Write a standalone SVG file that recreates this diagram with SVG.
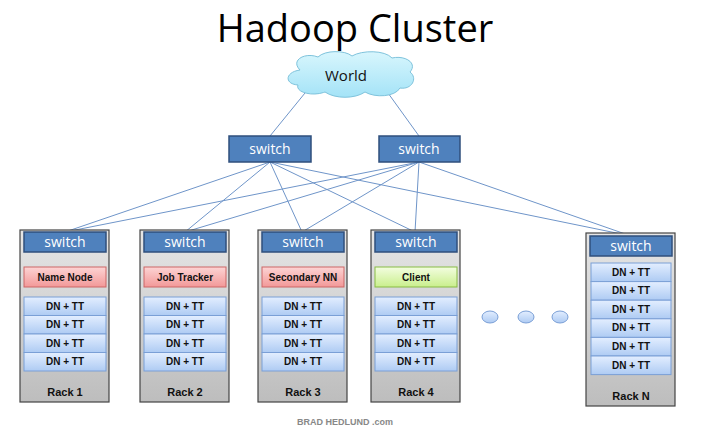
<svg xmlns="http://www.w3.org/2000/svg" width="709" height="439" viewBox="0 0 709 439">
<defs>
<linearGradient id="rk" x1="0" y1="0" x2="0" y2="1"><stop offset="0" stop-color="#e6e6e6"/><stop offset="1" stop-color="#bdbdbd"/></linearGradient>
<linearGradient id="dn" x1="0" y1="0" x2="0" y2="1"><stop offset="0" stop-color="#e3eeff"/><stop offset="1" stop-color="#aecbf3"/></linearGradient>
<linearGradient id="rd" x1="0" y1="0" x2="0" y2="1"><stop offset="0" stop-color="#fcd4d4"/><stop offset="1" stop-color="#f29898"/></linearGradient>
<linearGradient id="gr" x1="0" y1="0" x2="0" y2="1"><stop offset="0" stop-color="#f3fde0"/><stop offset="1" stop-color="#c9ef8c"/></linearGradient>
<linearGradient id="cl" x1="0" y1="0" x2="0" y2="1"><stop offset="0" stop-color="#d8f6fd"/><stop offset="1" stop-color="#a4e3f7"/></linearGradient>
</defs>
<style>
.rack{fill:url(#rk);stroke:#444;stroke-width:1.2}
.sw{fill:#4f81bd;stroke:#2f4f7c;stroke-width:1.5}
.swt{font-family:"Open Sans","Liberation Sans",sans-serif;font-size:14px;fill:#fff;text-anchor:middle}
.dn{fill:url(#dn);stroke:#7a9fd6;stroke-width:1}
.t{font-family:"Liberation Sans",Arial,sans-serif;font-size:10px;font-weight:bold;fill:#111;text-anchor:middle}
.rl{font-family:"Liberation Sans",Arial,sans-serif;font-size:11px;font-weight:bold;fill:#111;text-anchor:middle}
.ln{stroke:#6f95c9;stroke-width:1;fill:none}
</style>
<text x="355" y="42" font-family="Open Sans, Liberation Sans, sans-serif" font-size="38" text-anchor="middle" fill="#000">Hadoop Cluster</text>
<g id="connectors">
<line class="ln" x1="305" y1="93" x2="270" y2="136"/>
<line class="ln" x1="388" y1="93" x2="419" y2="136"/>
<line class="ln" x1="270" y1="162" x2="65" y2="232"/>
<line class="ln" x1="270" y1="162" x2="185" y2="232"/>
<line class="ln" x1="270" y1="162" x2="302" y2="232"/>
<line class="ln" x1="270" y1="162" x2="415" y2="232"/>
<line class="ln" x1="270" y1="162" x2="631" y2="236"/>
<line class="ln" x1="419" y1="162" x2="65" y2="232"/>
<line class="ln" x1="419" y1="162" x2="185" y2="232"/>
<line class="ln" x1="419" y1="162" x2="302" y2="232"/>
<line class="ln" x1="419" y1="162" x2="415" y2="232"/>
<line class="ln" x1="419" y1="162" x2="631" y2="236"/>
</g>
<g id="world">
<path d="M300,70 C290,60 305,52 318,57 C325,50 345,50 352,56 C362,50 385,50 392,58 C405,55 418,63 410,72 C418,78 412,90 400,88 C395,97 375,98 365,92 C355,99 335,99 325,92 C312,97 295,92 298,85 C284,84 285,72 300,70 Z" fill="url(#cl)" stroke="#7fc3dc" stroke-width="1"/>
<text x="346" y="81" font-family="Open Sans, Liberation Sans, sans-serif" font-size="15" text-anchor="middle" fill="#111">World</text>
</g>
<g id="switch-left"><rect class="sw" x="229" y="136" width="82" height="26"/><text class="swt" x="270" y="154">switch</text></g>
<g id="switch-right"><rect class="sw" x="379" y="136" width="81" height="26"/><text class="swt" x="419" y="154">switch</text></g>
<g id="rack1">
<rect class="rack" x="20" y="230" width="89" height="172"/>
<rect class="sw" x="24" y="232" width="82" height="20"/><text class="swt" x="65" y="247">switch</text>
<rect fill="url(#rd)" stroke="#c66" x="24" y="267" width="82" height="20"/><text class="t" x="65" y="280.5">Name Node</text>
<rect class="dn" x="24" y="297" width="82" height="18.5"/><text class="t" x="65" y="309.5">DN + TT</text>
<rect class="dn" x="24" y="315.5" width="82" height="18.5"/><text class="t" x="65" y="328">DN + TT</text>
<rect class="dn" x="24" y="334" width="82" height="18.5"/><text class="t" x="65" y="346.5">DN + TT</text>
<rect class="dn" x="24" y="352.5" width="82" height="18.5"/><text class="t" x="65" y="365">DN + TT</text>
<text class="rl" x="65" y="396">Rack 1</text>
</g>
<g id="rack2">
<rect class="rack" x="140" y="230" width="89" height="172"/>
<rect class="sw" x="144" y="232" width="82" height="20"/><text class="swt" x="185" y="247">switch</text>
<rect fill="url(#rd)" stroke="#c66" x="144" y="267" width="82" height="20"/><text class="t" x="185" y="280.5">Job Tracker</text>
<rect class="dn" x="144" y="297" width="82" height="18.5"/><text class="t" x="185" y="309.5">DN + TT</text>
<rect class="dn" x="144" y="315.5" width="82" height="18.5"/><text class="t" x="185" y="328">DN + TT</text>
<rect class="dn" x="144" y="334" width="82" height="18.5"/><text class="t" x="185" y="346.5">DN + TT</text>
<rect class="dn" x="144" y="352.5" width="82" height="18.5"/><text class="t" x="185" y="365">DN + TT</text>
<text class="rl" x="185" y="396">Rack 2</text>
</g>
<g id="rack3">
<rect class="rack" x="258" y="230" width="89" height="172"/>
<rect class="sw" x="262" y="232" width="82" height="20"/><text class="swt" x="303" y="247">switch</text>
<rect fill="url(#rd)" stroke="#c66" x="262" y="267" width="82" height="20"/><text class="t" x="303" y="280.5">Secondary NN</text>
<rect class="dn" x="262" y="297" width="82" height="18.5"/><text class="t" x="303" y="309.5">DN + TT</text>
<rect class="dn" x="262" y="315.5" width="82" height="18.5"/><text class="t" x="303" y="328">DN + TT</text>
<rect class="dn" x="262" y="334" width="82" height="18.5"/><text class="t" x="303" y="346.5">DN + TT</text>
<rect class="dn" x="262" y="352.5" width="82" height="18.5"/><text class="t" x="303" y="365">DN + TT</text>
<text class="rl" x="303" y="396">Rack 3</text>
</g>
<g id="rack4">
<rect class="rack" x="371" y="230" width="89" height="172"/>
<rect class="sw" x="375" y="232" width="82" height="20"/><text class="swt" x="416" y="247">switch</text>
<rect fill="url(#gr)" stroke="#8b4" x="375" y="267" width="82" height="20"/><text class="t" x="416" y="280.5">Client</text>
<rect class="dn" x="375" y="297" width="82" height="18.5"/><text class="t" x="416" y="309.5">DN + TT</text>
<rect class="dn" x="375" y="315.5" width="82" height="18.5"/><text class="t" x="416" y="328">DN + TT</text>
<rect class="dn" x="375" y="334" width="82" height="18.5"/><text class="t" x="416" y="346.5">DN + TT</text>
<rect class="dn" x="375" y="352.5" width="82" height="18.5"/><text class="t" x="416" y="365">DN + TT</text>
<text class="rl" x="416" y="396">Rack 4</text>
</g>
<g id="dots">
<ellipse cx="490" cy="317" rx="8" ry="6" fill="url(#dn)" stroke="#7a9fd6"/>
<ellipse cx="526" cy="317" rx="8" ry="6" fill="url(#dn)" stroke="#7a9fd6"/>
<ellipse cx="560" cy="317" rx="8" ry="6" fill="url(#dn)" stroke="#7a9fd6"/>
</g>
<g id="rackN">
<rect class="rack" x="586" y="233" width="89" height="173"/>
<rect class="sw" x="590" y="236" width="82" height="20"/><text class="swt" x="631" y="251">switch</text>
<rect class="dn" x="591" y="263" width="80" height="18.6"/><text class="t" x="631" y="275.5">DN + TT</text>
<rect class="dn" x="591" y="281.6" width="80" height="18.6"/><text class="t" x="631" y="294">DN + TT</text>
<rect class="dn" x="591" y="300.2" width="80" height="18.6"/><text class="t" x="631" y="312.5">DN + TT</text>
<rect class="dn" x="591" y="318.8" width="80" height="18.6"/><text class="t" x="631" y="331">DN + TT</text>
<rect class="dn" x="591" y="337.4" width="80" height="18.6"/><text class="t" x="631" y="350">DN + TT</text>
<rect class="dn" x="591" y="356" width="80" height="18.6"/><text class="t" x="631" y="368.5">DN + TT</text>
<text class="rl" x="631" y="400">Rack N</text>
</g>
<text x="345" y="425" font-family="Liberation Sans, Arial, sans-serif" font-size="9" font-weight="bold" fill="#888" text-anchor="middle">BRAD HEDLUND .com</text>
</svg>
